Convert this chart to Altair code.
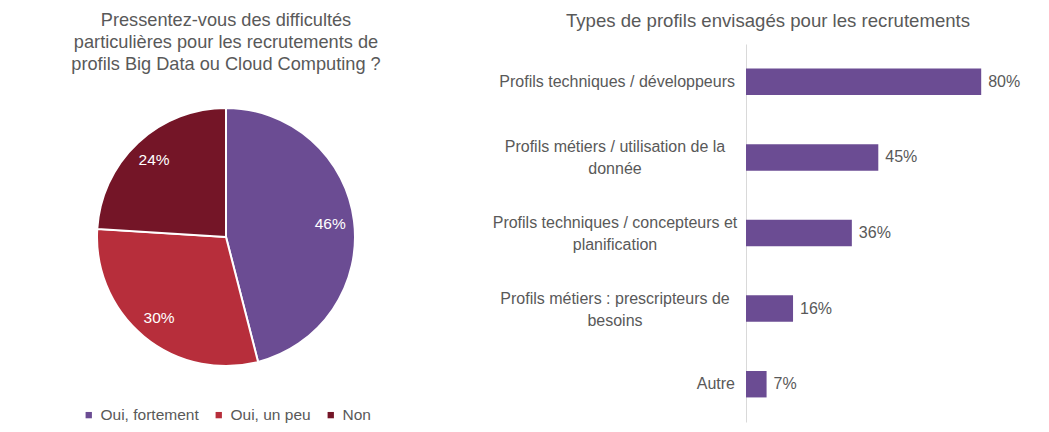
import altair as alt
import pandas as pd

# ---- data ----
pie_cats = ["Oui, fortement", "Oui, un peu", "Non"]
pie_vals = [46, 30, 24]
pie_colors = ["#6B4C93", "#B72E3B", "#741527"]

bar_cats = [
    "Profils techniques / développeurs",
    "Profils métiers / utilisation de la\ndonnée",
    "Profils techniques / concepteurs et\nplanification",
    "Profils métiers : prescripteurs de\nbesoins",
    "Autre",
]
bar_vals = [80, 45, 36, 16, 7]

pie_title = [
    "Pressentez-vous des difficultés",
    "particulières pour les recrutements de",
    "profils Big Data ou Cloud Computing ?",
]
bar_title = "Types de profils envisagés pour les recrutements"

GRAY = "#595959"
FONT = "Liberation Sans"

pie_df = pd.DataFrame({"cat": pie_cats, "value": pie_vals, "idx": list(range(len(pie_cats)))})
bar_df = pd.DataFrame({"cat": bar_cats, "value": bar_vals})

# ---- pie ----
base = alt.Chart(pie_df).transform_calculate(label="datum.value + '%'").encode(
    theta=alt.Theta("value:Q", stack=True),
    order=alt.Order("idx:Q", sort="ascending"),
)
arcs = base.mark_arc(outerRadius=129, x=218, y=193, stroke="white", strokeWidth=2).encode(
    color=alt.Color(
        "cat:N",
        scale=alt.Scale(domain=pie_cats, range=pie_colors),
        legend=alt.Legend(
            title=None, orient="none", legendX=73, legendY=363, direction="horizontal",
            symbolType="square", symbolSize=40, symbolStrokeWidth=0, symbolOpacity=1,
            labelFontSize=15.5, labelColor=GRAY, labelFont=FONT,
            columnPadding=12, labelOffset=4,
        ),
    )
)
pie_labels = base.mark_text(radius=105, x=218, y=193, fontSize=15.5, font=FONT, color="white").encode(
    text="label:N"
)
pie = alt.layer(arcs, pie_labels).properties(
    width=436, height=378,
    title=alt.TitleParams(
        pie_title, fontSize=18.2, font=FONT, color=GRAY, fontWeight="normal",
        lineHeight=22, offset=13, dy=43, anchor="middle", frame="group",
    ),
)

# ---- bars ----
bar_base = alt.Chart(bar_df).encode(
    y=alt.Y(
        "cat:N", sort=bar_cats,
        scale=alt.Scale(paddingInner=0.65, paddingOuter=0.325),
        axis=alt.Axis(title=None, labels=False, ticks=False, grid=False,
                      domainColor="#D9D9D9", domainWidth=1),
    ),
)
bars = bar_base.mark_bar(color="#6B4C93").encode(
    x=alt.X("value:Q", scale=alt.Scale(domain=[0, 100]), axis=None)
)
vals = bar_base.transform_calculate(label="datum.value + '%'").mark_text(
    align="left", baseline="middle", dx=7, fontSize=16, font=FONT, color=GRAY
).encode(x="value:Q", text="label:N")
multi = bar_base.transform_filter("indexof(datum.cat, '\\n') >= 0").mark_text(
    align="center", baseline="middle", dx=-131, dy=-10, lineBreak="\n", lineHeight=22,
    fontSize=16, font=FONT, color=GRAY,
).encode(x=alt.value(0), text="cat:N")
single = bar_base.transform_filter("indexof(datum.cat, '\\n') < 0").mark_text(
    align="right", baseline="middle", dx=-11, fontSize=16, font=FONT, color=GRAY,
).encode(x=alt.value(0), text="cat:N")

bar = alt.layer(bars, vals, multi, single).properties(
    width=294, height=378,
    title=alt.TitleParams(
        bar_title, fontSize=18.6, font=FONT, color=GRAY, fontWeight="normal",
        offset=13, anchor="middle", frame="group", dx=-125,
    ),
)

chart = (
    alt.hconcat(pie, bar, spacing=302, bounds="flush")
    .properties(padding={"top": 2, "left": 0, "right": 0, "bottom": 0}, background="white")
    .configure_view(stroke=None)
)

chart.save("out.html", embed_options={"renderer": "svg", "actions": False})
